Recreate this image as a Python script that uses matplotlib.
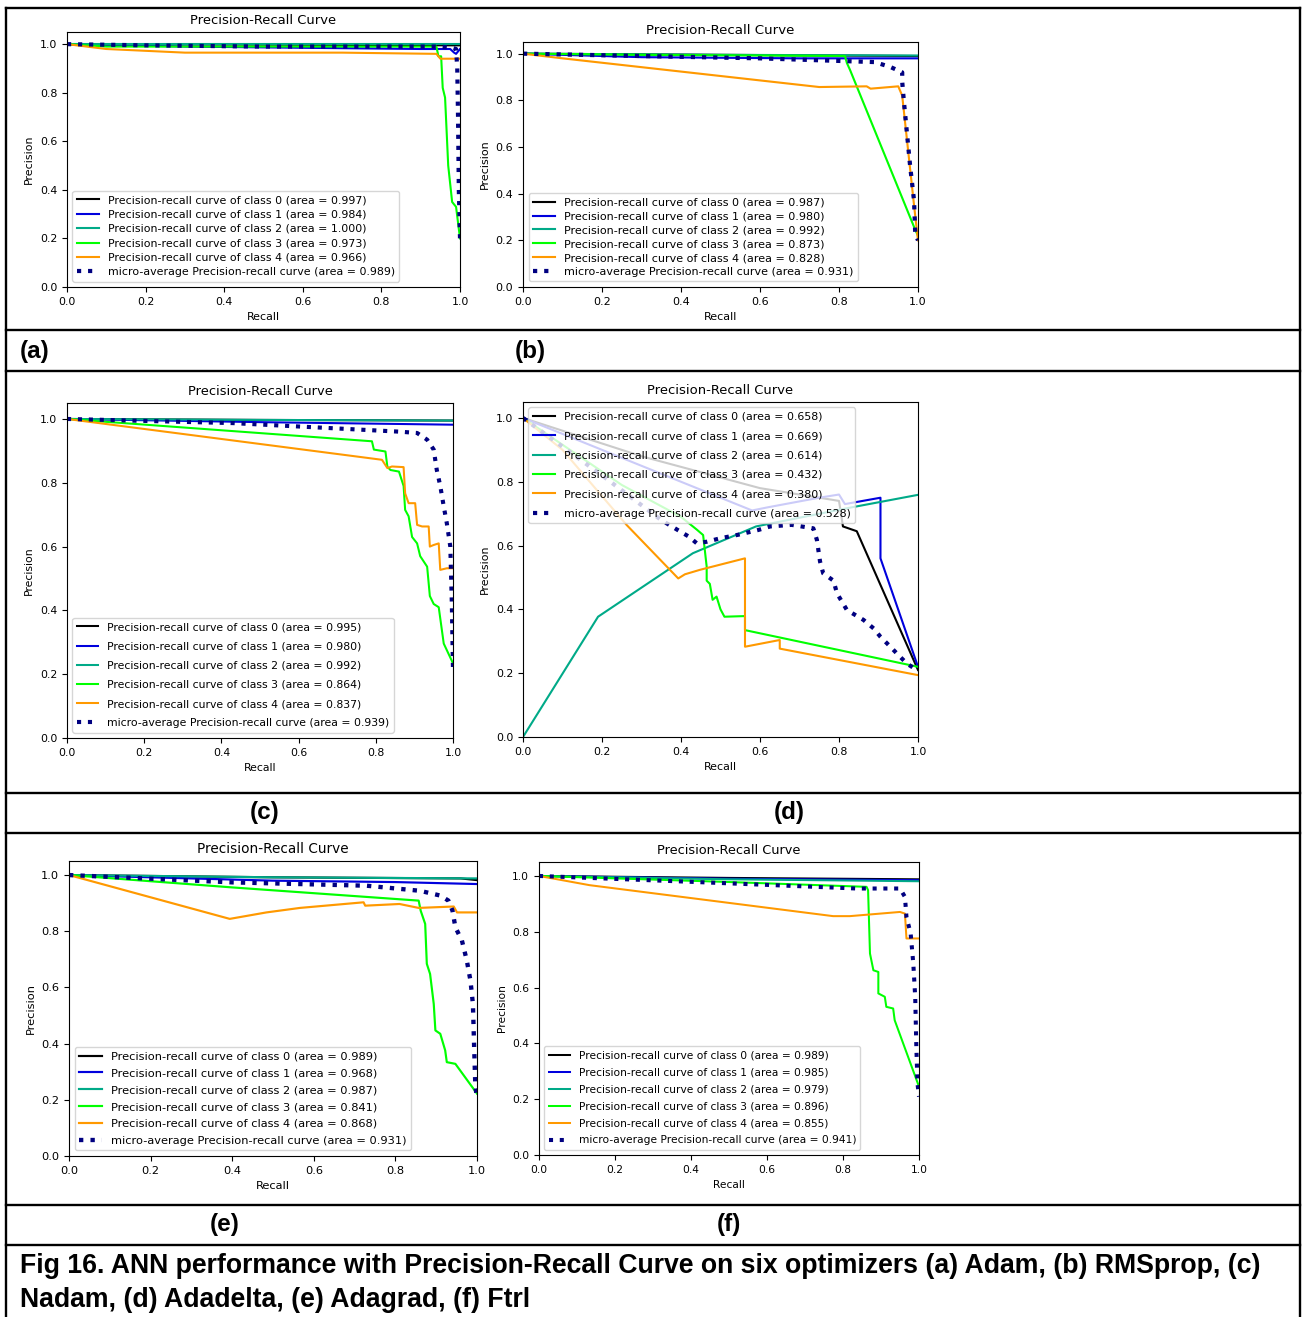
import numpy as np
import matplotlib
matplotlib.use('Agg')
import matplotlib.pyplot as plt
from matplotlib.lines import Line2D

W, H = 1303, 1317

# (a) Adam
adam_r = [[0, 0.5, 1.0],
          [0, 0.3, 0.6, 0.9, 0.975, 0.985, 0.99, 1.0],
          [0, 1.0],
          [0, 0.1, 0.5, 0.94, 0.945, 0.952, 0.956, 0.962, 0.97, 0.98, 0.99, 1.0],
          [0, 0.1, 0.3, 0.5, 0.7, 0.94, 0.95, 1.0]]
adam_p = [[1.0, 0.998, 0.995],
          [1.0, 0.99, 0.985, 0.98, 0.98, 0.965, 0.96, 0.98],
          [1.0, 1.0],
          [1.0, 0.99, 0.99, 0.99, 0.95, 0.95, 0.82, 0.78, 0.5, 0.35, 0.33, 0.2],
          [1.0, 0.98, 0.965, 0.965, 0.965, 0.96, 0.94, 0.94]]
adam_micro_r = [0, 0.2, 0.5, 0.8, 0.95, 0.98, 0.99, 0.993, 0.995, 0.997, 1.0]
adam_micro_p = [1.0, 0.995, 0.99, 0.99, 0.99, 0.985, 0.98, 0.9, 0.7, 0.4, 0.2]
adam_area = [0.997, 0.984, 1.000, 0.973, 0.966]
adam_micro_area = 0.989

# (b) RMSprop
rms_r = [[0, 0.5, 1.0],
         [0, 0.3, 0.7, 1.0],
         [0, 0.5, 1.0],
         [0, 0.3, 0.8, 0.815, 0.82, 0.828, 0.993, 1.0],
         [0, 0.1, 0.75, 0.87, 0.88, 0.95, 0.96, 0.99, 1.0]]
rms_p = [[1.0, 0.995, 0.99],
         [1.0, 0.985, 0.98, 0.98],
         [1.0, 0.995, 0.992],
         [1.0, 0.995, 0.99, 0.99, 0.96, 0.93, 0.245, 0.22],
         [1.0, 0.98, 0.857, 0.86, 0.85, 0.86, 0.82, 0.35, 0.2]]
rms_micro_r = [0, 0.3, 0.6, 0.89, 0.93, 0.96, 0.96, 0.964, 0.972, 0.98, 0.99, 0.993, 1.0]
rms_micro_p = [1.0, 0.99, 0.98, 0.964, 0.943, 0.92, 0.88, 0.80, 0.66, 0.52, 0.37, 0.23, 0.2]
rms_area = [0.987, 0.980, 0.992, 0.873, 0.828]
rms_micro_area = 0.931

# (c) Nadam
nadam_r = [[0, 0.5, 1.0],
           [0, 0.5, 1.0],
           [0, 0.5, 1.0],
           [0, 0.79, 0.795, 0.825, 0.83, 0.838, 0.86, 0.872, 0.876, 0.885, 0.894, 0.907,
            0.915, 0.933, 0.94, 0.95, 0.963, 0.976, 1.0],
           [0, 0.816, 0.83, 0.842, 0.872, 0.876, 0.885, 0.902, 0.907, 0.92, 0.937, 0.94,
            0.95, 0.963, 0.967, 0.984, 1.0]]
nadam_p = [[1.0, 0.997, 0.995],
           [1.0, 0.99, 0.982],
           [1.0, 0.997, 0.995],
           [1.0, 0.93, 0.904, 0.898, 0.85, 0.84, 0.835, 0.79, 0.715, 0.695, 0.63, 0.61,
            0.57, 0.537, 0.445, 0.42, 0.41, 0.296, 0.234],
           [1.0, 0.872, 0.846, 0.851, 0.849, 0.767, 0.736, 0.736, 0.668, 0.663, 0.663, 0.6,
            0.605, 0.61, 0.527, 0.532, 0.532]]
nadam_micro_r = [0, 0.43, 0.864, 0.907, 0.933, 0.95, 0.958, 0.967, 0.976, 0.984, 0.993, 0.997, 1.0]
nadam_micro_p = [1.0, 0.987, 0.96, 0.956, 0.935, 0.904, 0.84, 0.79, 0.726, 0.673, 0.6, 0.42, 0.21]
nadam_area = [0.995, 0.980, 0.992, 0.864, 0.837]
nadam_micro_area = 0.939

# (d) Adadelta
adadelta_r = [[0, 0.3, 0.6, 0.8, 0.81, 0.845, 1.0],
              [0, 0.58, 0.62, 0.75, 0.8, 0.815, 0.905, 0.905, 1.0],
              [0, 0.19, 0.43, 0.59, 0.82, 1.0],
              [0, 0.25, 0.4, 0.44, 0.456, 0.465, 0.465, 0.473, 0.48, 0.49, 0.5, 0.51,
               0.562, 0.562, 1.0],
              [0, 0.1, 0.262, 0.393, 0.41, 0.448, 0.562, 0.562, 0.65, 0.65, 1.0]]
adadelta_p = [[1.0, 0.88, 0.78, 0.74, 0.66, 0.645, 0.21],
              [1.0, 0.71, 0.72, 0.75, 0.76, 0.73, 0.75, 0.56, 0.22],
              [0.0, 0.377, 0.576, 0.66, 0.717, 0.759],
              [1.0, 0.79, 0.69, 0.65, 0.633, 0.534, 0.49, 0.48, 0.43, 0.44, 0.4, 0.377,
               0.379, 0.335, 0.22],
              [1.0, 0.9, 0.665, 0.497, 0.51, 0.524, 0.56, 0.283, 0.304, 0.277, 0.194]]
adadelta_micro_r = [0, 0.2, 0.35, 0.39, 0.42, 0.44, 0.465, 0.5, 0.545, 0.596, 0.626, 0.68,
                    0.735, 0.744, 0.752, 0.76, 0.786, 0.795, 0.82, 0.862, 0.888, 0.905,
                    0.93, 0.951, 0.972, 0.997]
adadelta_micro_p = [1.0, 0.82, 0.68, 0.65, 0.628, 0.607, 0.612, 0.623, 0.634, 0.649, 0.66, 0.665,
                    0.654, 0.618, 0.55, 0.513, 0.49, 0.45, 0.398, 0.367, 0.34, 0.314,
                    0.283, 0.256, 0.23, 0.21]
adadelta_area = [0.658, 0.669, 0.614, 0.432, 0.380]
adadelta_micro_area = 0.528

# (e) Adagrad
adagrad_r = [[0, 0.5, 0.96, 1.0],
             [0, 0.5, 0.8, 1.0],
             [0, 0.5, 1.0],
             [0, 0.4, 0.857, 0.862, 0.873, 0.877, 0.885, 0.894, 0.898, 0.91, 0.922, 0.926,
              0.947, 1.0],
             [0, 0.394, 0.484, 0.566, 0.722, 0.726, 0.81, 0.857, 0.943, 0.951, 1.0]]
adagrad_p = [[1.0, 0.992, 0.988, 0.982],
             [1.0, 0.98, 0.975, 0.968],
             [1.0, 0.992, 0.988],
             [1.0, 0.956, 0.909, 0.873, 0.826, 0.684, 0.648, 0.541, 0.447, 0.435, 0.376, 0.334,
              0.328, 0.222],
             [1.0, 0.844, 0.867, 0.883, 0.903, 0.891, 0.897, 0.883, 0.888, 0.867, 0.867]]
adagrad_micro_r = [0, 0.4, 0.73, 0.86, 0.91, 0.93, 0.94, 0.947, 0.963, 0.975, 0.984, 0.99,
                   0.993, 0.996, 1.0]
adagrad_micro_p = [1.0, 0.974, 0.962, 0.944, 0.927, 0.909, 0.873, 0.814, 0.767, 0.696, 0.624,
                   0.541, 0.387, 0.245, 0.21]
adagrad_area = [0.989, 0.968, 0.987, 0.841, 0.868]
adagrad_micro_area = 0.931

# (f) Ftrl
ftrl_r = [[0, 0.5, 1.0],
          [0, 0.5, 1.0],
          [0, 0.5, 1.0],
          [0, 0.485, 0.862, 0.866, 0.871, 0.88, 0.893, 0.893, 0.91, 0.914, 0.932, 0.936, 1.0],
          [0, 0.133, 0.774, 0.818, 0.95, 0.963, 0.967, 1.0]]
ftrl_p = [[1.0, 0.993, 0.988],
          [1.0, 0.99, 0.985],
          [1.0, 0.988, 0.981],
          [1.0, 0.979, 0.961, 0.949, 0.722, 0.662, 0.656, 0.579, 0.567, 0.531, 0.525, 0.483, 0.245],
          [1.0, 0.967, 0.856, 0.856, 0.871, 0.865, 0.776, 0.776]]
ftrl_micro_r = [0, 0.4, 0.836, 0.95, 0.963, 0.967, 0.978, 0.985, 0.99, 0.993, 0.996, 1.0]
ftrl_micro_p = [1.0, 0.979, 0.955, 0.955, 0.925, 0.853, 0.794, 0.686, 0.567, 0.388, 0.257, 0.209]
ftrl_area = [0.989, 0.985, 0.979, 0.896, 0.855]
ftrl_micro_area = 0.941

panels = [
    # data, pixel box (left, top, right, bottom), font size, legend loc, label spacing
    (adam_r, adam_p, adam_area, adam_micro_r, adam_micro_p, adam_micro_area, (67, 32, 460, 287), 7.9, 'lower left', 0.4),
    (rms_r, rms_p, rms_area, rms_micro_r, rms_micro_p, rms_micro_area, (523, 42, 918, 287), 8.0, 'lower left', 0.35),
    (nadam_r, nadam_p, nadam_area, nadam_micro_r, nadam_micro_p, nadam_micro_area, (67, 403, 453, 738), 7.8, 'lower left', 0.85),
    (adadelta_r, adadelta_p, adadelta_area, adadelta_micro_r, adadelta_micro_p, adadelta_micro_area, (523, 402, 918, 737), 7.9, 'upper left', 0.85),
    (adagrad_r, adagrad_p, adagrad_area, adagrad_micro_r, adagrad_micro_p, adagrad_micro_area, (69, 861, 477, 1156), 8.2, 'lower left', 0.6),
    (ftrl_r, ftrl_p, ftrl_area, ftrl_micro_r, ftrl_micro_p, ftrl_micro_area, (539, 862, 919, 1155), 7.7, 'lower left', 0.65),
]

fig = plt.figure(figsize=(W / 100, H / 100), dpi=100)
cmap = plt.get_cmap('nipy_spectral')

for rs, ps, areas, mr, mp, marea, box, fs, loc, spacing in panels:
    l, t, r, b = box
    ax = fig.add_axes([l / W, 1 - b / H, (r - l) / W, (b - t) / H])
    for i in range(5):
        ax.plot(rs[i], ps[i], lw=fs * 0.19, color=cmap(i / 5.0),
                label='Precision-recall curve of class {0} (area = {1:0.3f})'.format(i, areas[i]))
    ax.plot(mr, mp, color='navy', linestyle=':', linewidth=fs * 0.38,
            label='micro-average Precision-recall curve (area = {0:0.3f})'.format(marea))
    ax.set_xlim([0.0, 1.0])
    ax.set_ylim([0.0, 1.05])
    ax.set_title('Precision-Recall Curve', fontsize=fs * 1.2)
    ax.set_xlabel('Recall', fontsize=fs)
    ax.set_ylabel('Precision', fontsize=fs)
    ax.tick_params(labelsize=fs)
    ax.legend(loc=loc, fontsize=fs, labelspacing=spacing)

# table frame
lw = 1.7
def hline(y, x0=6, x1=1300):
    fig.add_artist(Line2D([x0 / W, x1 / W], [1 - y / H, 1 - y / H], color='black', lw=lw))

def vline(x, y0=8, y1=H):
    fig.add_artist(Line2D([x / W, x / W], [1 - y0 / H, 1 - y1 / H], color='black', lw=lw))

for y in [8, 330, 371, 793, 833, 1205, 1245]:
    hline(y)
vline(6)
vline(1300)

lab = dict(fontsize=17.5, fontweight='bold', family='Liberation Sans', va='center')
fig.text(20 / W, 1 - 351 / H, '(a)', ha='left', **lab)
fig.text(515 / W, 1 - 351 / H, '(b)', ha='left', **lab)
fig.text(265 / W, 1 - 813 / H, '(c)', ha='center', **lab)
fig.text(789 / W, 1 - 813 / H, '(d)', ha='center', **lab)
fig.text(225 / W, 1 - 1224 / H, '(e)', ha='center', **lab)
fig.text(729 / W, 1 - 1224 / H, '(f)', ha='center', **lab)

cap = dict(lab, fontsize=19.2)
fig.text(20 / W, 1 - 1266 / H,
         'Fig 16. ANN performance with Precision-Recall Curve on six optimizers (a) Adam, (b) RMSprop, (c)',
         ha='left', **cap)
fig.text(20 / W, 1 - 1300 / H, 'Nadam, (d) Adadelta, (e) Adagrad, (f) Ftrl', ha='left', **cap)

fig.savefig('out.png', dpi=100)
